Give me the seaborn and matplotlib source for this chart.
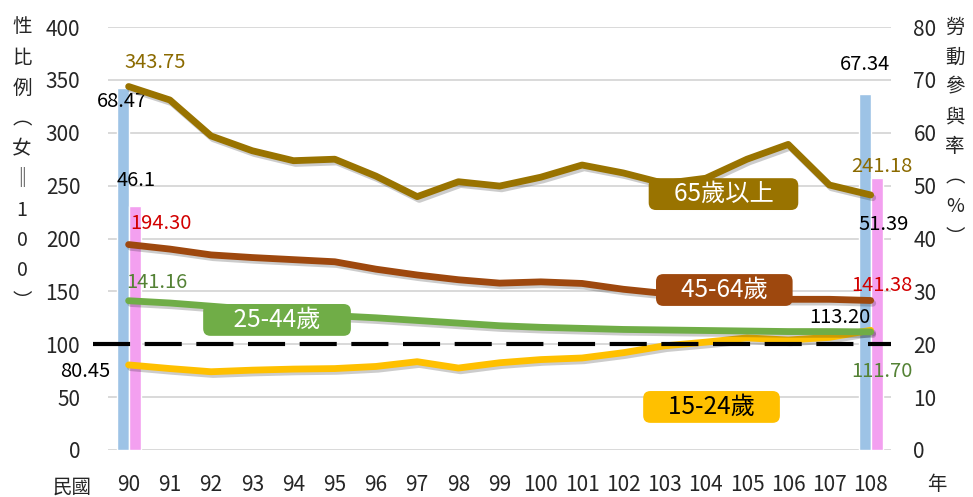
import numpy as np
import pandas as pd
import seaborn as sns
import matplotlib.pyplot as plt
from matplotlib import patheffects as pe

# %% data
years = list(range(90, 109))
groups = ['15-24歲', '25-44歲', '45-64歲', '65歲以上']
ratio_15_24 = [80.45, 77, 74, 75.5, 76.5, 77, 79, 83.5, 77.5, 82.5, 85.5, 87, 92, 98.5, 102, 106, 104, 106.5, 113.20]
ratio_25_44 = [141.16, 139, 136, 133, 130, 127, 125, 122.5, 120, 117.5, 116, 115, 114, 113.5, 113, 112.5, 112, 112, 111.70]
ratio_45_64 = [194.30, 190, 184.5, 182, 180, 178, 171, 165.5, 161, 157.8, 159, 157.5, 152, 148, 145.5, 144, 142.5, 142.5, 141.38]
ratio_65_up = [343.75, 331, 297, 283, 273.6, 275, 259, 239.6, 253.7, 249.6, 258, 269.5, 262, 252, 257, 275, 289, 250.6, 241.18]

lfpr_years = [90, 108]
lfpr_male = [68.47, 67.34]
lfpr_female = [46.1, 51.39]

colors = {'15-24歲': '#FFC000', '25-44歲': '#70AD47', '45-64歲': '#9E480E', '65歲以上': '#997300'}
bar_blue = '#9DC3E6'
bar_pink = '#F3A0F0'

df = pd.DataFrame({
    'year': years * 4,
    'ratio': ratio_15_24 + ratio_25_44 + ratio_45_64 + ratio_65_up,
    'group': [g for g in groups for _ in years],
})

# %% figure
sns.set_theme(style='white')
plt.rcParams['font.family'] = ['Noto Sans CJK TC', 'DejaVu Sans']

fig = plt.figure(figsize=(9.73, 4.97), dpi=100)
ax = fig.add_axes([0.111, 0.0946, 0.805, 0.851])
ax2 = ax.twinx()
ax.set_zorder(ax2.get_zorder() + 1)
ax.patch.set_visible(False)

# labour participation bars (right axis)
w = 0.29
xb = np.array(lfpr_years)
ax2.bar(xb - w / 2, lfpr_male, w, color=bar_blue, zorder=2)
ax2.bar(xb + w / 2, lfpr_female, w, color=bar_pink, zorder=2)
ax2.set_ylim(0, 80)
ax2.set_yticks(range(0, 81, 10))
ax2.yaxis.grid(True, color='#D9D9D9', lw=1.4)
ax2.set_axisbelow(True)
ax2.tick_params(axis='y', length=0, pad=16, labelsize=15)

# sex ratio lines (left axis)
shadow = [pe.SimpleLineShadow(offset=(1.5, -2), shadow_color='k', alpha=0.22), pe.Normal()]
sns.lineplot(data=df, x='year', y='ratio', hue='group', hue_order=groups, palette=colors,
             lw=4.9, legend=False, ax=ax, path_effects=shadow)
ax.axhline(100, xmin=-0.019, xmax=1, color='black', lw=3, dashes=(8.9, 3.5), clip_on=False, zorder=5)

ax.set_xlim(89.5, 108.5)
ax.set_ylim(0, 400)
ax.set_xticks(years)
ax.set_yticks(range(0, 401, 50))
ax.tick_params(axis='y', length=0, pad=20, labelsize=15)
ax.tick_params(axis='x', length=0, pad=17, labelsize=15)
ax.set_xlabel('')
ax.set_ylabel('')
for a in (ax, ax2):
    for s in a.spines.values():
        s.set_visible(False)

# value labels
red = '#D20000'
gold_txt = '#8B6A00'
green_txt = '#548235'
px = 0.72
def lab(a, x, y, t, dx, dy, c='black'):
    a.annotate(t, xy=(x, y), xytext=(dx * px, dy * px), textcoords='offset points',
               ha='center', va='center', fontsize=14.5, color=c, zorder=6)

lab(ax, years[0], ratio_65_up[0], f'{ratio_65_up[0]:.2f}', 27, 24, gold_txt)
lab(ax, years[0], ratio_45_64[0], f'{ratio_45_64[0]:.2f}', 32, 21, red)
lab(ax, years[0], ratio_25_44[0], f'{ratio_25_44[0]:.2f}', 28, 18, green_txt)
lab(ax, years[0], ratio_15_24[0], f'{ratio_15_24[0]:.2f}', -43, -7)
lab(ax, years[-1], ratio_65_up[-1], f'{ratio_65_up[-1]:.2f}', 11, 28, gold_txt)
lab(ax, years[-1], ratio_45_64[-1], f'{ratio_45_64[-1]:.2f}', 11, 15, red)
lab(ax, years[-1], ratio_25_44[-1], f'{ratio_25_44[-1]:.2f}', 11, -40, green_txt)
lab(ax, years[-1], ratio_15_24[-1], f'{ratio_15_24[-1]:.2f}', -31, 13)
lab(ax2, xb[0] - w / 2, lfpr_male[0], f'{lfpr_male[0]:.2f}', -1, -14)
lab(ax2, xb[0] + w / 2, lfpr_female[0], f'{lfpr_female[0]}', 2, 26)
lab(ax2, xb[1] - w / 2, lfpr_male[1], f'{lfpr_male[1]:.2f}', 0, 29)
lab(ax2, xb[1] + w / 2, lfpr_female[1], f'{lfpr_female[1]:.2f}', 7, -46)

# series name boxes
boxes = [('65歲以上', 104.43, 242, 'white', 4), ('45-64歲', 104.45, 151.3, 'white', 4),
         ('25-44歲', 93.6, 123, 'white', 5), ('15-24歲', 104.14, 40.7, 'black', 4)]
for name, bx, by, tc, ns in boxes:
    sp = ' ' * ns
    ax.text(bx, by, sp + name + sp, ha='center', va='center', fontsize=17.5, color=tc, zorder=7,
            bbox=dict(boxstyle='round,pad=0.12,rounding_size=0.3', fc=colors[name], ec='none'))

# axis titles written vertically
left_title = ['性', '比', '例', '︵', '女', '‖', '1', '0', '0', '︶']
for i, ch in enumerate(left_title):
    fig.text(22 / 973, 1 - (27 + 30.5 * i) / 497, ch, ha='center', va='center', fontsize=14)
right_title = ['勞', '動', '參', '與', '率', '︵', '%', '︶']
for i, ch in enumerate(right_title):
    fig.text(955 / 973, 1 - (27 + 30 * i) / 497, ch, ha='center', va='center', fontsize=14)
fig.text(72 / 973, 1 - 487 / 497, '民國', ha='center', va='center', fontsize=14)
fig.text(937 / 973, 1 - 485 / 497, '年', ha='center', va='center', fontsize=14)

fig.savefig('out.png', dpi=100)
